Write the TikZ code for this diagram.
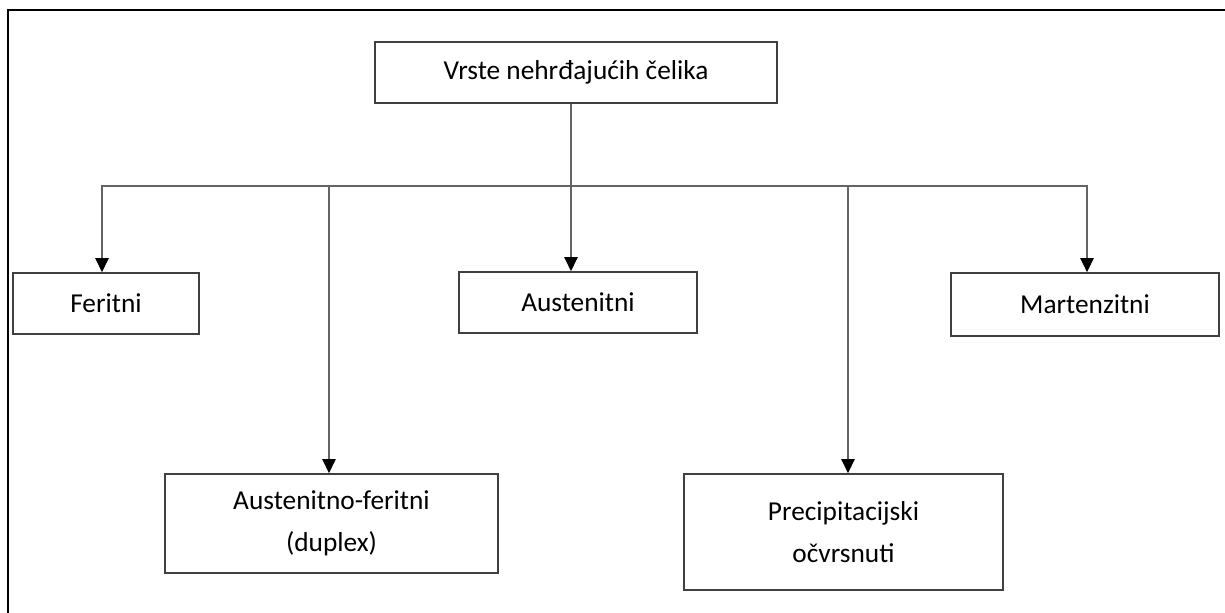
\documentclass[tikz,border=0pt]{standalone}
\usepackage{fontspec}
\setmainfont{Carlito}
\usetikzlibrary{arrows.meta}

\tikzset{every picture/.style={line width=0.75pt}}
\tikzset{
  box/.style={draw={rgb,255:red,64;green,64;blue,64}, line width=1.3pt, inner sep=0pt, align=center, font=\fontsize{20.5}{31.5}\selectfont},
  tip/.tip={Triangle[width=10pt,length=10.5pt,color=black]},
  link/.style={draw={rgb,255:red,100;green,100;blue,100}, line width=1.2pt, -tip},
}

\begin{document}
\begin{tikzpicture}[x=0.75pt,y=0.75pt,yscale=-1,xscale=1]
\useasboundingbox (0,0) rectangle (1225,613);

%Frame
\draw [line width=2.2pt] (8,613) -- (8,10) -- (1225,10) ;

% Text Node
\node [box, minimum width=301.5pt, minimum height=45.75pt] (root) at (576,72.5) {Vrste nehrđajućih čelika};
% Text Node
\node [box, minimum width=139.5pt, minimum height=45.75pt] (feritni) at (106,303.5) {Feritni};
% Text Node
\node [box, minimum width=178.5pt, minimum height=45.75pt] (austenitni) at (578,302.5) {Austenitni};
% Text Node
\node [box, minimum width=201pt, minimum height=47.25pt] (martenzitni) at (1085,304.5) {Martenzitni};
% Text Node
\node [box, minimum width=249.75pt, minimum height=74.25pt] (duplex) at (331.5,523.5) {Austenitno-feritni\\(duplex)};
% Text Node
\node [box, minimum width=239.25pt, minimum height=87pt] (precip) at (843.5,532) {Precipitacijski\\očvrsnuti};

%Bus coordinates
\coordinate (busL) at (102,186);
\coordinate (busR) at (1087,186);
\coordinate (trunk) at (571,186);
\coordinate (dup) at (329,186);
\coordinate (pre) at (848,186);

%Straight Lines
\draw [link, tip-tip] (busL |- feritni.north) -- (busL) -- (busR) -- (busR |- martenzitni.north) ;
\draw [link] (trunk |- root.south) -- (trunk |- austenitni.north) ;
\draw [link] (dup) -- (dup |- duplex.north) ;
\draw [link] (pre) -- (pre |- precip.north) ;

\end{tikzpicture}
\end{document}
